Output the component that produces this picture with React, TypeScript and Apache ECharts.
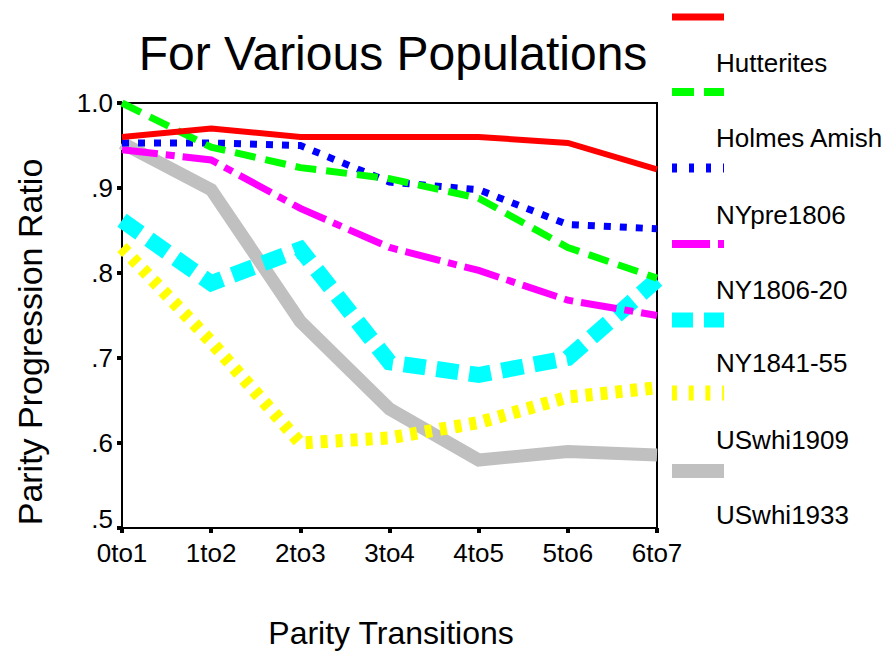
import React, { useEffect, useRef } from "react";
import * as echarts from "echarts";

const categories = ["0to1", "1to2", "2to3", "3to4", "4to5", "5to6", "6to7"];
const hutterites = [0.96, 0.97, 0.96, 0.96, 0.96, 0.953, 0.922];
const holmesAmish = [1.0, 0.948, 0.924, 0.911, 0.888, 0.83, 0.794];
const nyPre1806 = [0.953, 0.953, 0.95, 0.907, 0.898, 0.857, 0.852];
const ny1806to20 = [0.945, 0.933, 0.876, 0.83, 0.803, 0.768, 0.75];
const ny1841to55 = [0.862, 0.788, 0.828, 0.695, 0.68, 0.7, 0.792];
const usWhi1909 = [0.83, 0.719, 0.6, 0.606, 0.624, 0.654, 0.665];
const usWhi1933 = [0.953, 0.898, 0.743, 0.64, 0.58, 0.59, 0.586];

const seriesNames = [
  "Hutterites",
  "Holmes Amish",
  "NYpre1806",
  "NY1806-20",
  "NY1841-55",
  "USwhi1909",
  "USwhi1933",
];
const seriesData = [hutterites, holmesAmish, nyPre1806, ny1806to20, ny1841to55, usWhi1909, usWhi1933];

const colors = ["#ff0000", "#00ff00", "#0000ff", "#ff00ff", "#00ffff", "#ffff00", "#c0c0c0"];
const widths = [6, 7, 7, 7, 16, 13, 13];
const dashes: (number[] | null)[] = [null, [21, 10], [7, 9], [36, 8, 9, 8], [22, 11], [7, 8], null];

const legendWidths = [7, 8, 9, 8, 15, 15, 14];
const legendDashes: (number[] | null)[] = [null, [22, 10], [5, 12], [38, 8, 7, 8], [21, 11], [5, 11.7], null];
const legendLineY = [17, 92, 168, 244, 320, 393, 471];
const legendTextY = [63, 138, 215, 290, 363, 440, 515];

const FONT = "'Liberation Sans', Arial, Helvetica, sans-serif";

export default function App() {
  const ref = useRef<HTMLDivElement>(null);
  useEffect(() => {
    document.body.style.margin = "0";
    if (!ref.current) return;
    const chart = echarts.init(ref.current, null, { renderer: "svg" });

    const series = seriesNames
      .map((name, i) => ({
        name,
        type: "line",
        data: seriesData[i],
        symbol: "none",
        showSymbol: false,
        clip: false,
        z: 10 - i,
        lineStyle: {
          color: colors[i],
          width: widths[i],
          type: dashes[i] ? dashes[i] : "solid",
          cap: "butt",
          join: "miter",
        },
      }))
      .reverse();

    const legendGraphics: any[] = [];
    seriesNames.forEach((name, i) => {
      legendGraphics.push({
        type: "line",
        shape: { x1: 672, y1: legendLineY[i], x2: 724, y2: legendLineY[i] },
        style: {
          stroke: colors[i],
          lineWidth: legendWidths[i],
          lineDash: legendDashes[i] || null,
          lineCap: "butt",
        },
      });
      legendGraphics.push({
        type: "text",
        x: 716,
        y: legendTextY[i],
        style: {
          text: name,
          fill: "#000",
          font: `26px ${FONT}`,
          align: "left",
          verticalAlign: "middle",
        },
      });
    });

    chart.setOption({
      animation: false,
      backgroundColor: "#fff",
      grid: {
        left: 122,
        right: 238,
        top: 103,
        bottom: 125,
        show: true,
        borderColor: "#000",
        borderWidth: 2,
        backgroundColor: "transparent",
      },
      xAxis: {
        type: "category",
        data: categories,
        boundaryGap: false,
        axisLine: { lineStyle: { color: "#000", width: 2 } },
        axisTick: { show: true, inside: false, length: 5, lineStyle: { color: "#000", width: 4 } },
        axisLabel: { color: "#000", fontSize: 26, fontFamily: FONT, margin: 12 },
        splitLine: { show: false },
      },
      yAxis: {
        type: "value",
        min: 0.5,
        max: 1.0,
        interval: 0.1,
        axisLine: { show: true, lineStyle: { color: "#000", width: 2 } },
        axisTick: { show: true, inside: false, length: 5, lineStyle: { color: "#000", width: 4 } },
        axisLabel: {
          color: "#000",
          fontSize: 26,
          fontFamily: FONT,
          margin: 9,
          formatter: (v: number) =>
            v >= 0.999 ? "1.0" : v <= 0.501 ? "{low|.5}" : "." + Math.round(v * 10),
          rich: {
            low: { fontSize: 26, fontFamily: FONT, color: "#000", padding: [0, 0, 18, 0] },
          },
        },
        splitLine: { show: false },
      },
      graphic: [
        {
          type: "text",
          x: 393,
          y: 53,
          style: {
            text: "For Various Populations",
            fill: "#000",
            font: `48px ${FONT}`,
            align: "center",
            verticalAlign: "middle",
          },
        },
        {
          type: "text",
          x: 391,
          y: 633,
          style: {
            text: "Parity Transitions",
            fill: "#000",
            font: `32px ${FONT}`,
            align: "center",
            verticalAlign: "middle",
          },
        },
        {
          type: "text",
          x: 30,
          y: 342,
          rotation: Math.PI / 2,
          style: {
            text: "Parity Progression Ratio",
            fill: "#000",
            font: `34px ${FONT}`,
            align: "center",
            verticalAlign: "middle",
          },
        },
        ...legendGraphics,
      ],
      series,
    });
    return () => chart.dispose();
  }, []);
  return <div ref={ref} style={{ width: 895, height: 653 }} />;
}
